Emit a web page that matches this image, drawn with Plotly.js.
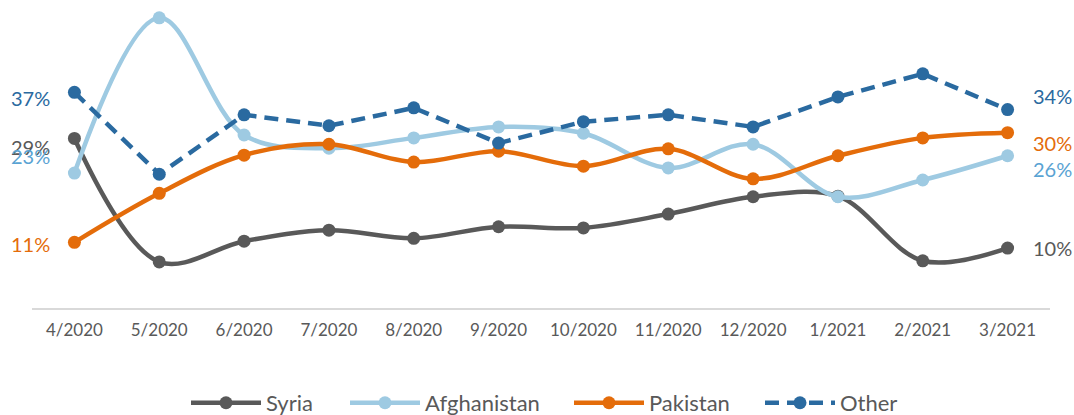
<!DOCTYPE html>
<html>
<head>
<meta charset="utf-8">
<script src="https://cdn.plot.ly/plotly-3.0.1.min.js"></script>
<style>
html,body{margin:0;padding:0;background:#fff;}
#chart{width:1074px;height:415px;}
</style>
</head>
<body>
<div id="chart"></div>
<script>
var months = ["4/2020","5/2020","6/2020","7/2020","8/2020","9/2020","10/2020","11/2020","12/2020","1/2021","2/2021","3/2021"];
var seriesNames = ["Syria","Afghanistan","Pakistan","Other"];
var syria       = [29, 7.6, 11.2, 13.1, 11.7, 13.7, 13.5, 15.9, 18.9, 19.0, 7.8, 10];
var afghanistan = [23, 49.9, 29.6, 27.3, 29.1, 31.0, 29.9, 23.9, 28.0, 18.9, 21.8, 26];
var pakistan    = [11, 19.5, 26.1, 28.0, 24.9, 26.8, 24.2, 27.2, 22.0, 26.0, 29.1, 30];
var other       = [37, 22.8, 33.1, 31.2, 34.3, 28.2, 31.9, 33.1, 31.0, 36.2, 40.2, 34];

var values = [syria, afghanistan, pakistan, other];
var lineColors = ["#595959", "#9ECAE2", "#E46C0A", "#2A6AA0"];
var labelColors = ["#595959", "#5AA3D3", "#E46C0A", "#2A6AA0"];
var shapes = ["spline", "spline", "spline", "linear"];
var dashes = ["solid", "solid", "solid", "14px,8px"];
var legendIds = ["legend", "legend2", "legend3", "legend4"];
var legendX = [186, 345, 569, 760];
// label vertical offsets (px) for first / last labels
var firstShift = [-9, 17, -2, -6];
var lastShift = [0, -13, -10, 14];

var FONT = "Lato, 'Open Sans', sans-serif";

var traces = values.map(function(v, i){
  return {
    type: "scatter",
    mode: "lines+markers",
    name: seriesNames[i],
    legend: legendIds[i],
    x: months,
    y: v,
    line: {color: lineColors[i], width: 4.5, shape: shapes[i], smoothing: 1, dash: dashes[i]},
    marker: {color: lineColors[i], size: 13},
    hoverinfo: "x+y+name"
  };
});

var annotations = [];
values.forEach(function(v, i){
  annotations.push({
    x: months[0], y: v[0], xref: "x", yref: "y",
    text: Math.round(v[0]) + "%", showarrow: false,
    xanchor: "right", yanchor: "middle", xshift: -22, yshift: firstShift[i],
    font: {family: FONT, size: 20, color: labelColors[i]}
  });
  var n = v.length - 1;
  annotations.push({
    x: months[n], y: v[n], xref: "x", yref: "y",
    text: Math.round(v[n]) + "%", showarrow: false,
    xanchor: "left", yanchor: "middle", xshift: 23, yshift: lastShift[i],
    font: {family: FONT, size: 20, color: labelColors[i]}
  });
});

var layout = {
  width: 1074, height: 415,
  margin: {l: 32, r: 24, t: 10, b: 107},
  paper_bgcolor: "#ffffff",
  plot_bgcolor: "#ffffff",
  font: {family: FONT, color: "#595959"},
  showlegend: true,
  xaxis: {
    type: "category", range: [-0.5, 11.5],
    showline: true, linecolor: "#D9D9D9", linewidth: 1.5,
    showgrid: false, zeroline: false, ticks: "", ticklabelstandoff: 6,
    tickfont: {size: 17, color: "#595959"}, fixedrange: true
  },
  yaxis: {
    range: [-0.38, 51.26], showgrid: false, zeroline: false,
    showline: false, showticklabels: false, ticks: "", fixedrange: true
  },
  annotations: annotations
};

legendIds.forEach(function(id, i){
  layout[id] = {
    orientation: "h", xref: "container", yref: "container",
    x: legendX[i] / 1074, xanchor: "left", y: 0.029, yanchor: "middle",
    font: {size: 22, color: "#595959"}, itemwidth: 70,
    bgcolor: "rgba(0,0,0,0)"
  };
});

Plotly.newPlot("chart", traces, layout, {displayModeBar: false});
</script>
</body>
</html>
